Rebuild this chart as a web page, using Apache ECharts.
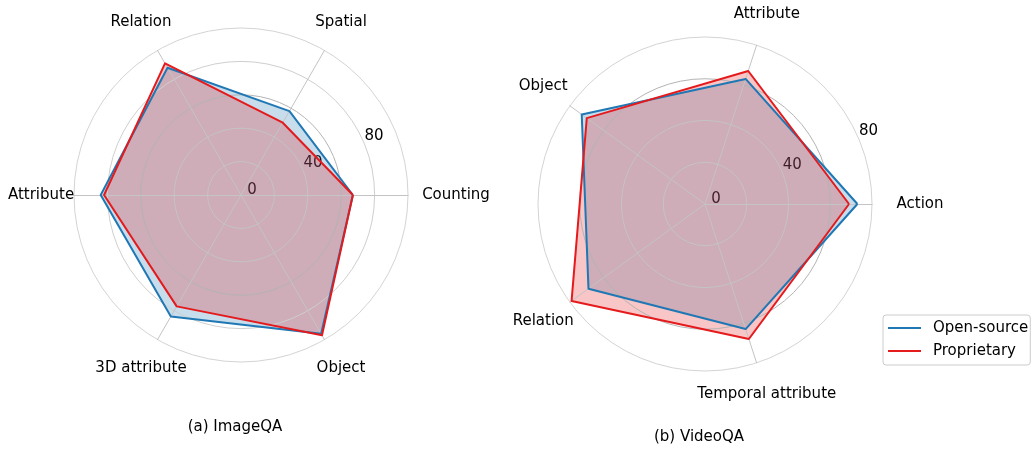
<!DOCTYPE html>
<html>
<head>
<meta charset="utf-8">
<script src="https://cdn.jsdelivr.net/npm/echarts@6/dist/echarts.min.js"></script>
<style>
html,body{margin:0;padding:0;background:#fff;}
#chart{width:1034px;height:449px;}
</style>
</head>
<body>
<div id="chart"></div>
<script>
// ---- data ----
const seriesNames = ['Open-source', 'Proprietary'];
const imageCategories = ['Counting', 'Spatial', 'Relation', 'Attribute', '3D attribute', 'Object'];
const imageOpen = [67, 58, 88, 84, 84, 96];
const imageProp = [67, 50, 91, 82, 77, 97];
const videoCategories = ['Action', 'Attribute', 'Object', 'Relation', 'Temporal attribute'];
const videoOpen = [73, 63, 73, 69, 63];
const videoProp = [69, 67, 70, 79, 68];
const imageMax = 100;
const videoMax = 80;
const radialTickLabels = ['0', '40', '80'];
const panelTitles = ['(a) ImageQA', '(b) VideoQA'];

// ---- style ----
const FONT = 'DejaVu Sans';
const BLUE = '#1f77b4';
const RED = '#e41a1c';

function radarConf(center, cats, max, splitNumber, ringColors) {
  return {
    z: 2,
    center: center, radius: 167, startAngle: 0, shape: 'circle',
    splitNumber: splitNumber,
    indicator: cats.map(n => ({ name: n, min: 0, max: max })),
    nameGap: 33,
    axisName: {
      color: '#000', fontSize: 15, fontFamily: FONT,
      align: 'center', verticalAlign: 'middle',
      formatter: function (name) {
        return cats.indexOf(name) === 0 ? '{r|' + name + '}' : name;
      },
      rich: { r: { fontSize: 15, fontFamily: FONT, color: '#000', padding: [0, 0, 0, 30] } }
    },
    axisLine: { lineStyle: { color: '#c4c4c4', width: 1 } },
    splitLine: { lineStyle: { color: ringColors, width: 1 } },
    splitArea: { show: false },
    axisTick: { show: false },
    axisLabel: { show: false }
  };
}

function radiusConf(idx, max) {
  return {
    polarIndex: idx, type: 'value', min: 0, max: max, interval: 40,
    axisLine: { show: false }, axisTick: { show: false }, splitLine: { show: false },
    axisLabel: {
      margin: 0, align: 'center', verticalAlign: 'middle',
      fontSize: 15, fontFamily: FONT, color: '#000',
      formatter: function (v) { return radialTickLabels.indexOf(String(v)) >= 0 ? String(v) : ''; }
    }
  };
}

function areaSeries(name, color, values, radarIndex) {
  return {
    type: 'radar', name: name, radarIndex: radarIndex, symbol: 'none',
    lineStyle: { width: 0, opacity: 0 },
    itemStyle: { color: color },
    areaStyle: { color: color, opacity: 0.25 },
    data: [{ value: values, name: name }],
    z: 1
  };
}
function lineSeries(name, color, values, radarIndex) {
  return {
    type: 'radar', name: name, radarIndex: radarIndex, symbol: 'none',
    lineStyle: { color: color, width: 2 },
    itemStyle: { color: color },
    data: [{ value: values, name: name }],
    z: 4
  };
}

const chart = echarts.init(document.getElementById('chart'), null, { renderer: 'canvas' });
chart.setOption({
  backgroundColor: '#fff',
  animation: false,
  title: [
    { text: panelTitles[0], left: 235, top: 420, textAlign: 'center', padding: 0,
      textStyle: { fontSize: 15, fontWeight: 'normal', fontFamily: FONT, color: '#000' } },
    { text: panelTitles[1], left: 699, top: 430, textAlign: 'center', padding: 0,
      textStyle: { fontSize: 15, fontWeight: 'normal', fontFamily: FONT, color: '#000' } }
  ],
  legend: {
    data: seriesNames, orient: 'vertical', left: 883, top: 315,
    icon: 'rect', itemWidth: 33, itemHeight: 2, itemGap: 5,
    padding: [4, 2, 5, 5],
    borderColor: '#cccccc', borderWidth: 1, borderRadius: 3,
    backgroundColor: 'rgba(255,255,255,0.8)',
    selectedMode: false,
    textStyle: { fontSize: 15, fontFamily: FONT, color: '#000', lineHeight: 18, padding: [0, 0, 0, 7] }
  },
  radar: [
    radarConf([241, 195], imageCategories, imageMax, 5, ['#c4c4c4', '#c4c4c4', '#c4c4c4', '#b4b4b4', '#cfcfcf', '#d4d4d4']),
    radarConf([705, 204], videoCategories, videoMax, 4, ['#c4c4c4', '#c4c4c4', '#c4c4c4', '#b4b4b4', '#d4d4d4'])
  ],
  polar: [
    { center: [241, 195], radius: [12, 179] },
    { center: [705, 204], radius: [12, 179] }
  ],
  angleAxis: [
    { polarIndex: 0, type: 'value', min: 0, max: 360, startAngle: 24, show: false },
    { polarIndex: 1, type: 'value', min: 0, max: 360, startAngle: 24, show: false }
  ],
  radiusAxis: [radiusConf(0, imageMax), radiusConf(1, videoMax)],
  series: [
    areaSeries(seriesNames[0], BLUE, imageOpen, 0),
    areaSeries(seriesNames[1], RED, imageProp, 0),
    areaSeries(seriesNames[0], BLUE, videoOpen, 1),
    areaSeries(seriesNames[1], RED, videoProp, 1),
    lineSeries(seriesNames[0], BLUE, imageOpen, 0),
    lineSeries(seriesNames[1], RED, imageProp, 0),
    lineSeries(seriesNames[0], BLUE, videoOpen, 1),
    lineSeries(seriesNames[1], RED, videoProp, 1)
  ]
});
</script>
</body>
</html>
